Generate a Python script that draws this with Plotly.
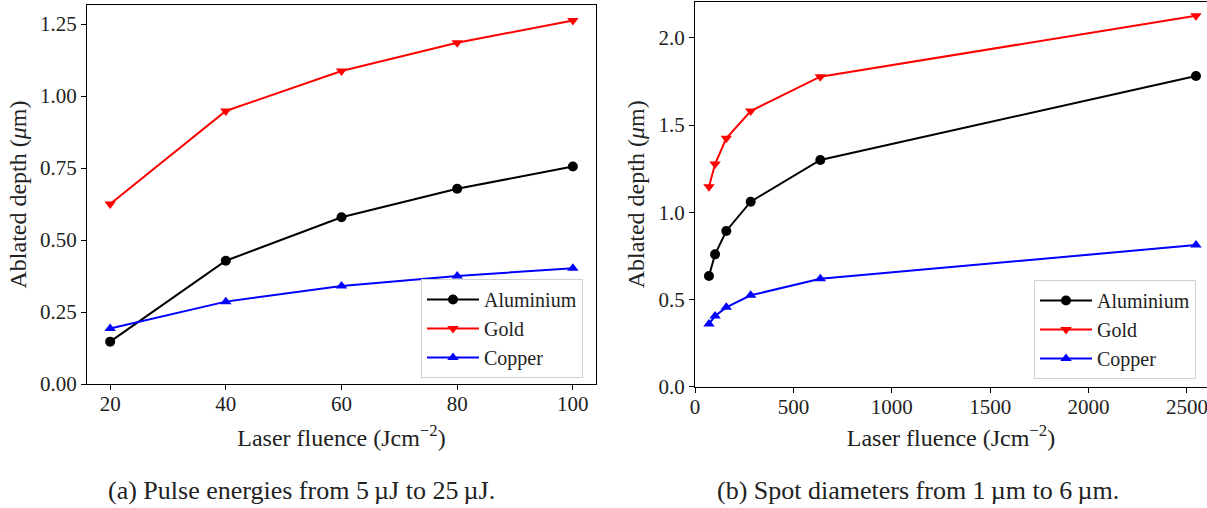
import plotly.graph_objects as go

# ---- data: (a) pulse energies ----
fluence_a = [20, 40, 60, 80, 100]
alu_a = [0.147, 0.428, 0.579, 0.678, 0.755]
gold_a = [0.625, 0.948, 1.087, 1.185, 1.262]
copper_a = [0.193, 0.286, 0.340, 0.375, 0.402]

# ---- data: (b) spot diameters ----
fluence_b = [71, 102, 159, 283, 637, 2546]
alu_b = [0.635, 0.759, 0.893, 1.061, 1.300, 1.782]
gold_b = [1.147, 1.277, 1.424, 1.581, 1.778, 2.127]
copper_b = [0.360, 0.405, 0.455, 0.524, 0.619, 0.812]

names = ["Aluminium", "Gold", "Copper"]
colors = ["black", "red", "blue"]
symbols = ["circle", "triangle-down", "triangle-up"]

ticks_a_x = [20, 40, 60, 80, 100]
ticks_a_y = [0, 0.25, 0.5, 0.75, 1.0, 1.25]
ticks_b_x = [0, 500, 1000, 1500, 2000, 2500]
ticks_b_y = [0, 0.5, 1.0, 1.5, 2.0]

caption_a = "(a) Pulse energies from 5\u2009µJ to 25\u2009µJ."
caption_b = "(b) Spot diameters from 1\u2009µm to 6\u2009µm."

FONT = "Liberation Serif, Times New Roman, serif"
W, H = 1207, 508

fig = go.Figure()
for ys, nm, c, s in zip([alu_a, gold_a, copper_a], names, colors, symbols):
    fig.add_trace(go.Scatter(x=fluence_a, y=ys, name=nm, mode="lines+markers",
                             line=dict(color=c, width=2),
                             marker=dict(symbol=s, size=10, color=c),
                             xaxis="x", yaxis="y", legend="legend"))
for ys, nm, c, s in zip([alu_b, gold_b, copper_b], names, colors, symbols):
    fig.add_trace(go.Scatter(x=fluence_b, y=ys, name=nm, mode="lines+markers",
                             line=dict(color=c, width=2),
                             marker=dict(symbol=s, size=10, color=c),
                             xaxis="x2", yaxis="y2", legend="legend2"))

axis_common = dict(showline=True, linecolor="black", linewidth=1.3,
                   ticks="outside", ticklen=5, tickwidth=1.2, tickcolor="black",
                   showgrid=False, zeroline=False, ticklabeloverflow="allow",
                   automargin=False,
                   tickfont=dict(family=FONT, size=21, color="#222"))
title_font = dict(family=FONT, size=24, color="#222")


def px_x(p):
    return p / W


def px_y(p):
    return 1 - p / H


legend_common = dict(xanchor="left", yanchor="top",
                     bgcolor="rgba(255,255,255,0.85)", bordercolor="#d0d0d0", borderwidth=1,
                     font=dict(family=FONT, size=20, color="#222"),
                     tracegroupgap=0, itemwidth=52)

fig.update_layout(
    width=W, height=H,
    margin=dict(l=0, r=0, t=0, b=0, autoexpand=False),
    paper_bgcolor="white", plot_bgcolor="white",
    font=dict(family=FONT),
    xaxis=dict(domain=[px_x(87), px_x(596)], range=[16, 104],
               tickvals=ticks_a_x, mirror=True, anchor="y", ticklabelstandoff=-4,
               title=dict(text="Laser fluence (Jcm<sup>−2</sup>)", font=title_font, standoff=13),
               **axis_common),
    yaxis=dict(domain=[px_y(384), px_y(5)], range=[0, 1.316],
               tickvals=ticks_a_y, tickformat=".2f", mirror=True, anchor="x",
               title=dict(text="Ablated depth (<i>μ</i>m)", font=title_font, standoff=6),
               **axis_common),
    xaxis2=dict(domain=[px_x(695), 1.0], range=[0, 2602],
                tickvals=ticks_b_x, mirror=True, anchor="y2", ticklabelstandoff=-4,
                title=dict(text="Laser fluence (Jcm<sup>−2</sup>)", font=title_font, standoff=11),
                **axis_common),
    yaxis2=dict(domain=[px_y(386.7), px_y(2)], range=[0, 2.206],
                tickvals=ticks_b_y, tickformat=".1f", mirror=False, anchor="x2",
                title=dict(text="Ablated depth (<i>μ</i>m)", font=title_font, standoff=6),
                **axis_common),
    legend=dict(x=px_x(421), y=px_y(279), **legend_common),
    legend2=dict(x=px_x(1034), y=px_y(280), **legend_common),
    annotations=[
        dict(text=caption_a, x=px_x(301), y=px_y(490), xref="paper", yref="paper",
             xanchor="center", yanchor="middle",
             showarrow=False, font=dict(family=FONT, size=26, color="#222")),
        dict(text=caption_b, x=px_x(918), y=px_y(490), xref="paper", yref="paper",
             xanchor="center", yanchor="middle",
             showarrow=False, font=dict(family=FONT, size=26, color="#222")),
    ],
)

fig.write_html("out.html")
